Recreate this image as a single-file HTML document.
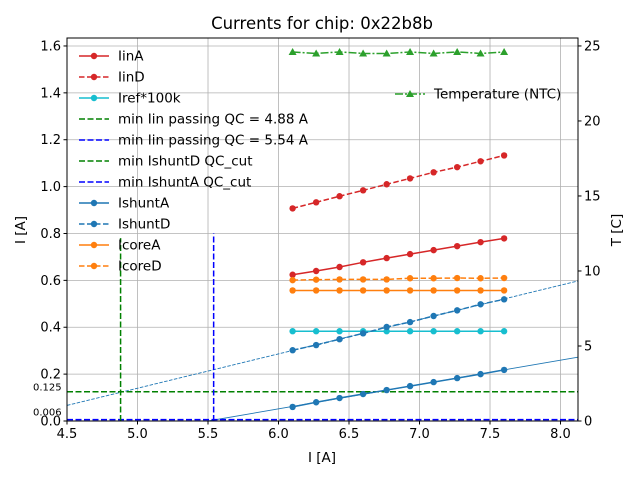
<!DOCTYPE html>
<html><head><meta charset="utf-8"><style>body{margin:0;background:#fff}svg{display:block;font-family:"DejaVu Sans","Liberation Sans",sans-serif}</style></head>
<body>
<svg id="c" width="640" height="480" xmlns="http://www.w3.org/2000/svg"></svg>
<script>
const xs = [6.1,6.267,6.433,6.6,6.767,6.933,7.1,7.267,7.433,7.6];
const iinA = [0.624,0.640,0.657,0.677,0.695,0.712,0.729,0.746,0.763,0.779];
const iinD = [0.907,0.933,0.959,0.984,1.010,1.035,1.061,1.083,1.108,1.133];
const irefK = [0.383,0.383,0.383,0.383,0.383,0.383,0.383,0.383,0.383,0.383];
const ishuntA = [0.060,0.080,0.098,0.115,0.132,0.149,0.166,0.183,0.200,0.218];
const ishuntD = [0.302,0.324,0.349,0.374,0.401,0.422,0.448,0.472,0.498,0.519];
const icoreA = [0.557,0.557,0.557,0.557,0.557,0.557,0.557,0.557,0.557,0.557];
const icoreD = [0.601,0.603,0.604,0.604,0.604,0.609,0.609,0.610,0.609,0.610];
const tempT = [24.6,24.5,24.6,24.5,24.5,24.6,24.5,24.6,24.5,24.6];
const xTicks = [4.5,5.0,5.5,6.0,6.5,7.0,7.5,8.0];
const yTicks = [0.0,0.2,0.4,0.6,0.8,1.0,1.2,1.4,1.6];
const tTicks = [0,5,10,15,20,25];
const minIinD = 4.88, minIinA = 5.54, cutD = 0.125, cutA = 0.006;

const L=67,R=578,T=38,B=421;
const X0=4.5,X1=8.124,Y1=1.634,T1=25.53;
const sx=v=>L+(v-X0)/(X1-X0)*(R-L);
const sy=v=>B-v/Y1*(B-T);
const st=v=>B-v/T1*(B-T);
const svg=document.getElementById('c');
const NS='http://www.w3.org/2000/svg';
function mk(tag,attrs,parent){const e=document.createElementNS(NS,tag);for(const k in attrs)e.setAttribute(k,attrs[k]);(parent||svg).appendChild(e);return e;}
function txt(s,attrs){const e=mk('text',attrs);e.textContent=s;return e;}

const defs=mk('defs',{});const cp=mk('clipPath',{id:'pc'},defs);mk('rect',{x:L,y:T,width:R-L,height:B-T},cp);

xTicks.forEach(v=>{const g=mk('line',{x1:sx(v),x2:sx(v),y1:T,y2:B,stroke:'#b0b0b0','stroke-width':0.8});

});
yTicks.forEach(v=>{const g=mk('line',{x1:L,x2:R,y1:sy(v),y2:sy(v),stroke:'#b0b0b0','stroke-width':0.8});

});

const plot=mk('g',{'clip-path':'url(#pc)'});



function fit(ys){const n=xs.length;let mx=0,my=0;xs.forEach((x,i)=>{mx+=x;my+=ys[i]});mx/=n;my/=n;let a=0,b=0;xs.forEach((x,i)=>{a+=(x-mx)*(ys[i]-my);b+=(x-mx)**2});const m=a/b;return [m,my-m*mx];}
function fitLine(ys,dash,name){const [m,c]=fit(ys);let xa=X0;if(m*xa+c<0)xa=-c/m;const f=mk('line',{x1:sx(xa),y1:sy(m*xa+c),x2:sx(X1),y2:sy(m*X1+c),stroke:'#1f77b4','stroke-width':0.9,'stroke-dasharray':dash||'none'},plot);

}
fitLine(ishuntA,null,'ishunta-fit-line');
fitLine(ishuntD,'3.5,1.5','ishuntd-fit-line');

let e;
e=mk('line',{x1:L,x2:R,y1:sy(cutD),y2:sy(cutD),stroke:'green','stroke-width':1.5,'stroke-dasharray':'6,2.5'},plot);

e=mk('line',{x1:L,x2:R,y1:sy(cutA),y2:sy(cutA),stroke:'blue','stroke-width':1.5,'stroke-dasharray':'6,2.5'},plot);

e=mk('line',{x1:sx(minIinD),x2:sx(minIinD),y1:sy(0),y2:sy(0.78),stroke:'green','stroke-width':1.5,'stroke-dasharray':'6,2.5'},plot);

e=mk('line',{x1:sx(minIinA),x2:sx(minIinA),y1:sy(0),y2:sy(0.8),stroke:'blue','stroke-width':1.5,'stroke-dasharray':'6,2.5'},plot);

e=txt(String(cutD),{x:33,y:sy(cutD)-1,'font-size':10});
e=txt(String(cutA),{x:33,y:sy(cutA)-4,'font-size':10});

function series(ys,color,dash,name,scale,marker){
 const s=scale||sy;
 const pts=xs.map((x,i)=>sx(x)+','+s(ys[i])).join(' ');
 const g=mk('g',{},plot);
 
 
 mk('polyline',{points:pts,fill:'none',stroke:color,'stroke-width':1.5,'stroke-dasharray':dash||'none'},g);
 xs.forEach((x,i)=>{let m;
  if(marker==='tri'){const cx=sx(x),cy=s(ys[i]);m=mk('polygon',{points:`${cx},${cy-4} ${cx-4},${cy+3} ${cx+4},${cy+3}`,fill:color},g);}
  else m=mk('circle',{cx:sx(x),cy:s(ys[i]),r:3.2,fill:color},g);
  
  });
}
series(iinA,'#d62728',null,'iina-series');
series(iinD,'#d62728','5.5,2.5','iind-series');
series(irefK,'#17becf',null,'iref-series');
series(ishuntA,'#1f77b4',null,'ishunta-series');
series(ishuntD,'#1f77b4','5.5,2.5','ishuntd-series');
series(icoreA,'#ff7f0e',null,'icorea-series');
series(icoreD,'#ff7f0e','5.5,2.5','icored-series');
series(tempT,'#2ca02c','8,2,2,2','temperature-series',st,'tri');

e=mk('rect',{x:L,y:T,width:R-L,height:B-T,fill:'none',stroke:'#000','stroke-width':1});


xTicks.forEach(v=>{mk('line',{x1:sx(v),x2:sx(v),y1:B,y2:B+3.5,stroke:'#000'});
 e=txt(v.toFixed(1),{x:sx(v),y:B+17,'font-size':13,'text-anchor':'middle'});
 });
yTicks.forEach(v=>{mk('line',{x1:L-3.5,x2:L,y1:sy(v),y2:sy(v),stroke:'#000'});
 e=txt(v.toFixed(1),{x:L-6,y:sy(v)+4.5,'font-size':13,'text-anchor':'end'});
 });
tTicks.forEach(v=>{mk('line',{x1:R,x2:R+3.5,y1:st(v),y2:st(v),stroke:'#000'});
 e=txt(String(v),{x:R+6,y:st(v)+4.5,'font-size':13});
 });

e=txt('Currents for chip: 0x22b8b',{x:322,y:29,'font-size':16.5,'text-anchor':'middle'});
e=txt('I [A]',{x:322,y:462,'font-size':13.5,'text-anchor':'middle'});
e=txt('I [A]',{x:0,y:0,'font-size':13.5,'text-anchor':'middle',transform:'translate(25,230) rotate(-90)'});
e=txt('T [C]',{x:0,y:0,'font-size':13.5,'text-anchor':'middle',transform:'translate(621,230) rotate(-90)'});

const leg=[['IinA','#d62728',null,1],['IinD','#d62728','5.5,2.5',1],['Iref*100k','#17becf',null,1],
['min Iin passing QC = 4.88 A','green','6,2.5',0],['min Iin passing QC = 5.54 A','blue','6,2.5',0],
['min IshuntD QC_cut','green','6,2.5',0],['min IshuntA QC_cut','blue','6,2.5',0],
['IshuntA','#1f77b4',null,1],['IshuntD','#1f77b4','5.5,2.5',1],['IcoreA','#ff7f0e',null,1],['IcoreD','#ff7f0e','5.5,2.5',1]];
const lg=mk('g',{});
leg.forEach((l,i)=>{const y=56+i*21;const g=mk('g',{},lg);
 
 mk('line',{x1:79,x2:109,y1:y,y2:y,stroke:l[1],'stroke-width':1.5,'stroke-dasharray':l[2]||'none'},g);
 if(l[3])mk('circle',{cx:94,cy:y,r:3.2,fill:l[1]},g);
 const t=mk('text',{x:118,y:y+4.5,'font-size':13.5},g);t.textContent=l[0];});
const tg=mk('g',{});
mk('line',{x1:395,x2:425,y1:94,y2:94,stroke:'#2ca02c','stroke-width':1.5,'stroke-dasharray':'8,2,2,2'},tg);
mk('polygon',{points:'410,90 406,97 414,97',fill:'#2ca02c'},tg);
const tt=mk('text',{x:434,y:98.5,'font-size':13.5},tg);tt.textContent='Temperature (NTC)';
</script>
</body></html>
